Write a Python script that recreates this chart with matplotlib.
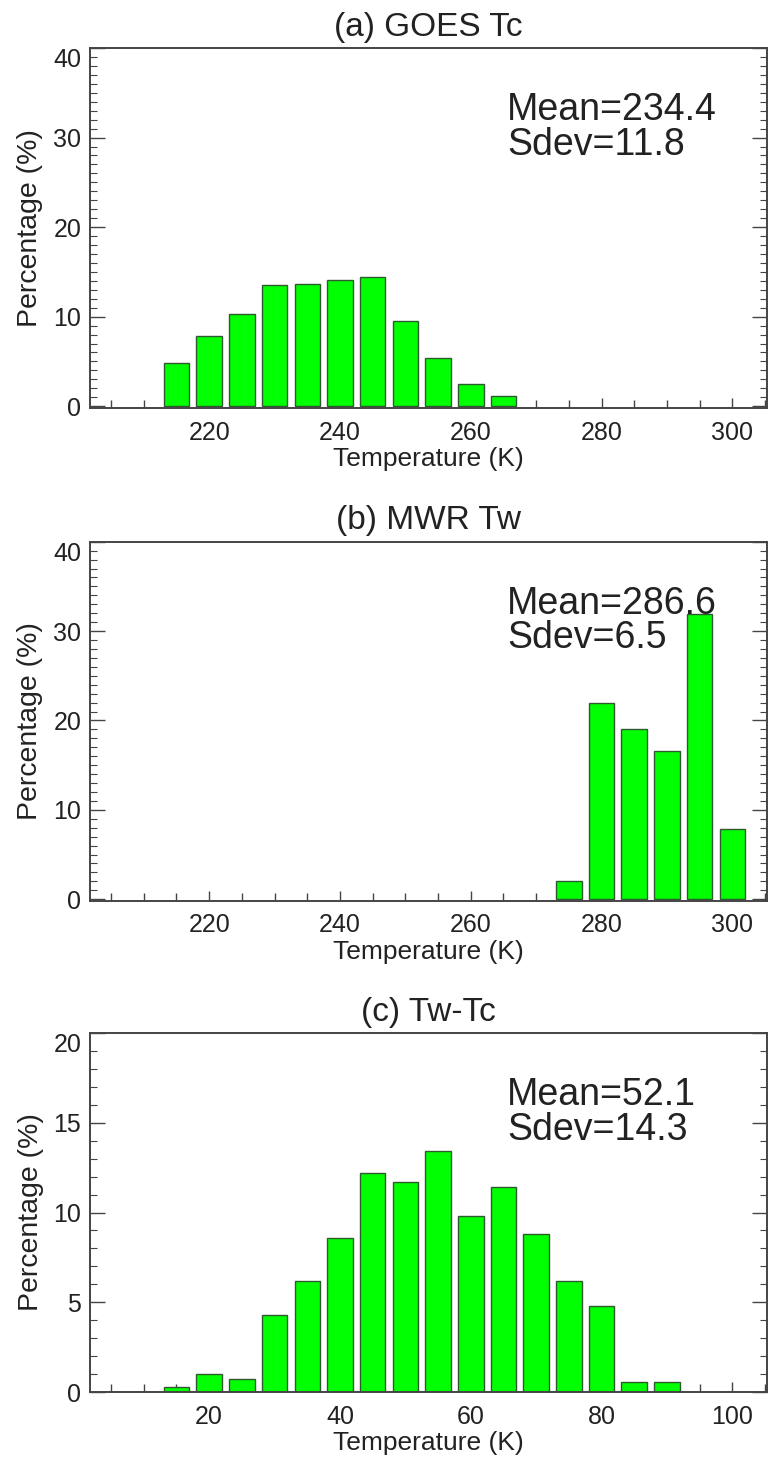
import matplotlib
matplotlib.use('Agg')
import matplotlib.pyplot as plt
from matplotlib.ticker import MultipleLocator

plt.rcParams['font.family'] = ['Liberation Sans', 'DejaVu Sans']

# ---- data ----
goes_bins = [215, 220, 225, 230, 235, 240, 245, 250, 255, 260, 265]
goes_pct = [4.8, 7.8, 10.3, 13.5, 13.7, 14.1, 14.4, 9.5, 5.4, 2.5, 1.1]

mwr_bins = [275, 280, 285, 290, 295, 300]
mwr_pct = [2.0, 21.9, 19.0, 16.6, 31.9, 7.9]

diff_bins = [15, 20, 25, 30, 35, 40, 45, 50, 55, 60, 65, 70, 75, 80, 85, 90]
diff_pct = [0.28, 1.0, 0.74, 4.3, 6.2, 8.6, 12.2, 11.7, 13.4, 9.8, 11.4, 8.8,
            6.2, 4.8, 0.55, 0.55]

titles = ['(a) GOES Tc', '(b) MWR Tw', '(c) Tw-Tc']
mean_labels = ['Mean=234.4', 'Mean=286.6', 'Mean=52.1']
sdev_labels = ['Sdev=11.8', 'Sdev=6.5', 'Sdev=14.3']
xticks_ab = [220, 240, 260, 280, 300]
xticks_c = [20, 40, 60, 80, 100]
yticks_ab = [0, 10, 20, 30, 40]
yticks_c = [0, 5, 10, 15, 20]
xlabel = 'Temperature (K)'
ylabel = 'Percentage (%)'

# ---- figure ----
W, H = 772, 1462
fig = plt.figure(figsize=(W / 100, H / 100), dpi=100)

left = 89.5 / W
width = (767 - 89.5) / W
boxes = [(48, 408), (541.7, 901), (1033, 1392)]

panels = [
    (goes_bins, goes_pct, xticks_ab, (201.7, 305.3), yticks_ab, (-0.2, 40)),
    (mwr_bins, mwr_pct, xticks_ab, (201.7, 305.3), yticks_ab, (-0.2, 40)),
    (diff_bins, diff_pct, xticks_c, (1.7, 105.3), yticks_c, (0, 20)),
]

txt_col = '#222222'
spine_col = '#444444'

for i, (bins, pct, xt, xl, yt, yl) in enumerate(panels):
    top, bot = boxes[i]
    ax = fig.add_axes([left, 1 - bot / H, width, (bot - top) / H])
    ax.bar(bins, pct, width=3.9, color='#00ff00', edgecolor='#2f5a2f',
           linewidth=1.0, zorder=2)
    ax.set_xlim(*xl)
    ax.set_ylim(*yl)
    ax.set_xticks(xt)
    ax.set_yticks(yt)
    ax.set_yticklabels([str(v) for v in yt])
    ax.xaxis.set_minor_locator(MultipleLocator(5))
    ax.yaxis.set_minor_locator(MultipleLocator(1))
    ax.tick_params(axis='x', which='both', direction='in', top=False,
                   bottom=True, colors=spine_col, labelcolor=txt_col,
                   labelsize=18, pad=9)
    ax.tick_params(axis='x', which='major', length=7, width=1.0)
    ax.tick_params(axis='x', which='minor', length=6, width=1.0)
    ax.tick_params(axis='y', which='both', direction='in', left=True,
                   right=True, colors=spine_col, labelcolor=txt_col,
                   labelsize=18, pad=6)
    ax.tick_params(axis='y', which='major', length=11, width=1.0)
    ax.tick_params(axis='y', which='minor', length=5, width=0.8)
    for sp in ax.spines.values():
        sp.set_color(spine_col)
        sp.set_linewidth(1.4)
    # top label shifted down as in reference
    lbls = ax.get_yticklabels()
    lbls[-1].set_va('top')

    ax.set_title(titles[i], fontsize=24, color=txt_col, pad=9)
    ax.set_xlabel(xlabel, fontsize=19, color=txt_col, labelpad=2)
    ax.set_ylabel(ylabel, fontsize=20.5, color=txt_col, labelpad=7)
    ax.text(0.616, 0.80, mean_labels[i], transform=ax.transAxes,
            fontsize=27, color=txt_col, va='baseline', ha='left', zorder=3)
    ax.text(0.616, 0.703, sdev_labels[i], transform=ax.transAxes,
            fontsize=27, color=txt_col, va='baseline', ha='left', zorder=3)

fig.savefig('out.png', dpi=100)
